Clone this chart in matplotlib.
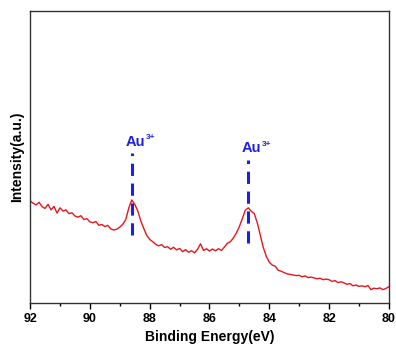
import numpy as np
import matplotlib
matplotlib.use('Agg')
import matplotlib.pyplot as plt
from matplotlib.ticker import MultipleLocator

plt.rcParams['font.family'] = ['Liberation Sans', 'DejaVu Sans']
plt.rcParams['font.weight'] = 'bold'

# Au 4f XPS spectrum, 92 -> 80 eV in 0.1 eV steps
intensity = [
    35.0, 34.2, 33.6, 34.5, 33.0, 32.4, 33.8, 31.9, 33.1, 30.8,   # 92.0 - 91.1
    32.6, 31.5, 31.9, 30.6, 30.9, 29.8, 29.4, 29.9, 28.6, 28.9,   # 91.0 - 90.1
    27.8, 27.5, 27.9, 26.6, 26.9, 26.2, 26.6, 25.4, 25.0, 25.3,   # 90.0 - 89.1
    26.0, 27.0, 28.6, 32.5, 35.3, 33.8, 31.6, 28.2, 25.6, 23.2,   # 89.0 - 88.1
    21.8, 21.0, 20.1, 19.6, 20.0, 19.0, 19.3, 18.4, 19.1, 18.2,   # 88.0 - 87.1
    18.7, 17.6, 18.3, 17.4, 17.9, 17.2, 18.4, 20.3, 18.0, 18.6,   # 87.0 - 86.1
    17.8, 18.5, 17.9, 18.6, 18.0, 19.2, 20.5, 21.0, 22.3, 24.0,   # 86.0 - 85.1
    26.2, 29.0, 31.8, 32.6, 31.4, 30.6, 27.4, 23.2, 19.0, 16.0,   # 85.0 - 84.1
    14.0, 13.0, 12.6, 11.2, 10.9, 10.4, 10.0, 9.8, 9.6, 9.4,      # 84.0 - 83.1
    9.5, 9.0, 9.3, 8.7, 8.9, 8.6, 8.3, 8.5, 8.0, 8.2,             # 83.0 - 82.1
    8.0, 7.4, 7.7, 7.0, 7.3, 6.9, 6.4, 6.7, 5.9, 6.2,             # 82.0 - 81.1
    5.7, 5.9, 5.6, 6.0, 4.6, 5.1, 4.9, 5.2, 4.6, 5.0,             # 81.0 - 80.1
    5.6,                                                          # 80.0
]
energy = np.linspace(92, 80, len(intensity))

# peak markers: position, dash top, dash bottom
peak_pos = [88.6, 84.7]
peak_top = [51.4, 49.0]
peak_bottom = [23.3, 20.5]
# label anchors (x of "Au" left edge, baseline y)
label_x = [88.79, 84.94]
label_y = [53.8, 51.7]

fig = plt.figure(figsize=(3.96, 3.52), dpi=100)
ax = fig.add_axes([0.076, 0.139, 0.906, 0.830])

ax.plot(energy, intensity, color='#e8161c', lw=1.0)

blue = '#1f1fe0'
for x, top, bot in zip(peak_pos, peak_top, peak_bottom):
    ax.plot([x, x], [bot, top], color=blue, lw=2.2, ls=(0, (4, 2.5)))

for lx, ly in zip(label_x, label_y):
    t = ax.text(lx, ly, 'Au', color=blue, fontsize=10.5, fontweight='bold',
                ha='left', va='baseline')
    ax.annotate('3+', xy=(1, 1), xycoords=t, xytext=(0.5, 0.3),
                textcoords='offset points', color=blue, fontsize=6,
                fontweight='bold', ha='left', va='top')

ax.set_xlim(92, 80)
ax.set_ylim(0, 100)
ax.xaxis.set_major_locator(MultipleLocator(2))
ax.xaxis.set_minor_locator(MultipleLocator(1))
ax.set_yticks([])
ax.tick_params(axis='x', which='major', direction='out', length=4, width=1,
               labelsize=9, pad=3)
ax.tick_params(axis='x', which='minor', direction='out', length=2.5, width=1)
for lbl in ax.get_xticklabels():
    lbl.set_fontweight('bold')
for s in ax.spines.values():
    s.set_linewidth(1.0)
    s.set_color('#333333')

ax.set_xlabel('Binding Energy(eV)', fontsize=10, fontweight='bold', labelpad=4)
ax.set_ylabel('Intensity(a.u.)', fontsize=10, fontweight='bold', labelpad=4)

fig.savefig('out.png', dpi=100)
